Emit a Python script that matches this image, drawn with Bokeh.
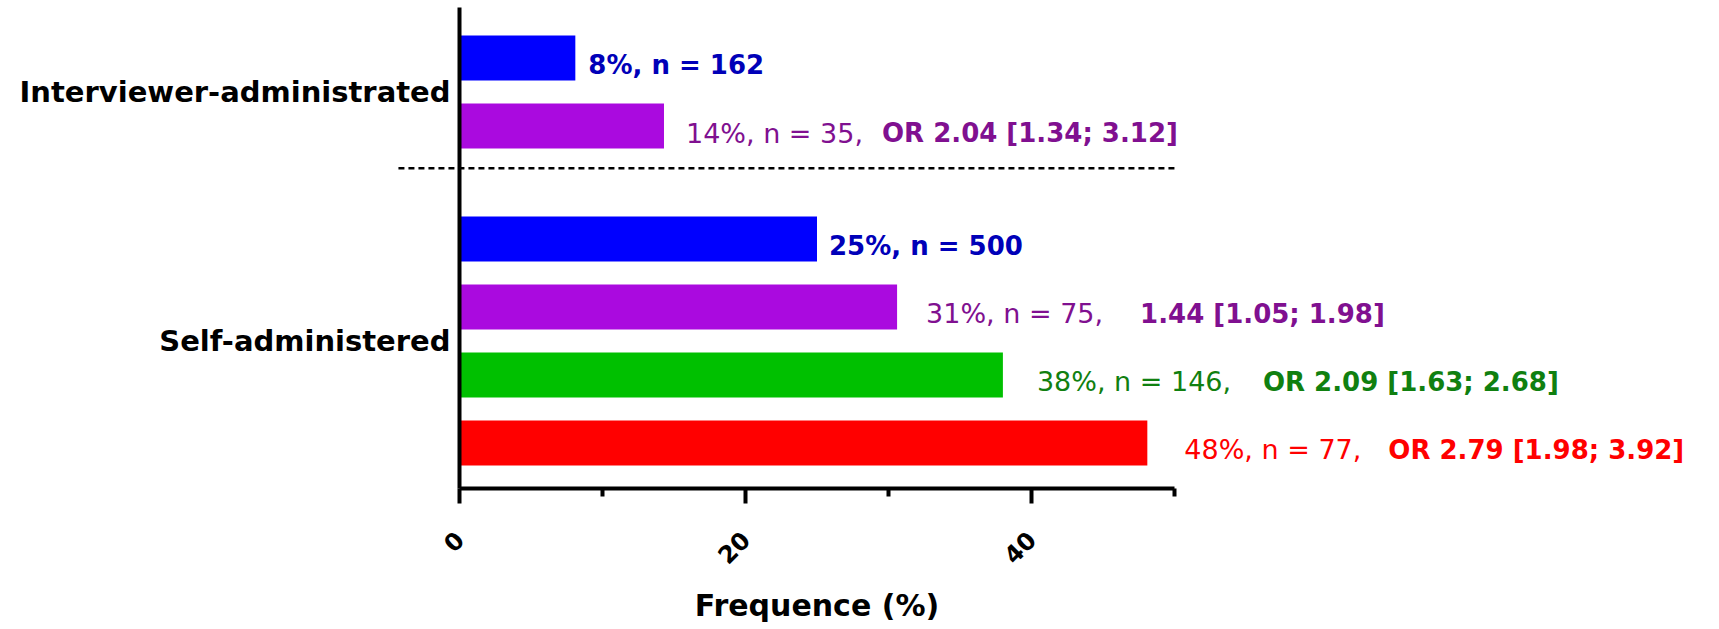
import math
from bokeh.plotting import figure
from bokeh.models import Range1d, FixedTicker, ColumnDataSource, Label
from bokeh.core.properties import value
from bokeh.embed import file_html
from bokeh.resources import INLINE

# ---------------- data ----------------
categories = ["Interviewer-administrated", "Self-administered"]
bar_group = ["Interviewer-administrated", "Interviewer-administrated",
             "Self-administered", "Self-administered", "Self-administered", "Self-administered"]
bar_values = [8.1, 14.3, 25.0, 30.6, 38.0, 48.1]
pct_labels = ["8%", "14%", "25%", "31%", "38%", "48%"]
n_values = [162, 35, 500, 75, 146, 77]
or_labels = [None, "OR 2.04 [1.34; 3.12]", None, "1.44 [1.05; 1.98]",
             "OR 2.09 [1.63; 2.68]", "OR 2.79 [1.98; 3.92]"]
x_ticks = [0, 20, 40]
x_minor_ticks = [10, 30, 50]
x_title = "Frequence (%)"

# ---------------- layout / style ----------------
FONT = "DejaVu Sans"
W, H = 1715, 627
AXIS_PX_X, AXIS_PX_Y = 459, 488      # pixel position of the axes origin
PX_X, PX_Y = 14.3, 68.0              # pixels per data unit
Y0 = 0.33                            # value at the x axis
Y_TOP = 7.40                         # top end of the y axis
bar_pos = [6.66, 5.66, 4.0, 3.0, 2.0, 1.0]
bar_height = 0.66
group_pos = {"Interviewer-administrated": 6.16, "Self-administered": 2.5}
separator_y = 5.04
separator_x = (-4.27, 50.27)
title_y = Y0 - 117 / PX_Y
bar_colors = ["#0000FF", "#AA0ADF", "#0000FF", "#AA0ADF", "#00C000", "#FF0000"]
text_colors = ["#0000B8", "#801090", "#0000B8", "#801090", "#108010", "#FF0000"]
normal_off = [0, 22, 0, 29, 34, 37]
bold_off = [13, 218, 12, 243, 260, 241]

x_range = Range1d(-AXIS_PX_X / PX_X, (W - AXIS_PX_X) / PX_X)
y_range = Range1d(Y0 - (H - AXIS_PX_Y) / PX_Y, Y0 + AXIS_PX_Y / PX_Y)

p = figure(width=W, height=H, output_backend="svg", toolbar_location=None,
           x_range=x_range, y_range=y_range,
           min_border_left=0, min_border_right=0,
           min_border_top=0, min_border_bottom=0)
p.outline_line_color = None
p.xgrid.visible = False
p.ygrid.visible = False
p.background_fill_color = "white"

# bars
bars = ColumnDataSource(dict(y=bar_pos, right=bar_values, color=bar_colors))
p.hbar(y="y", left=0, right="right", height=bar_height, fill_color="color",
       line_color=None, source=bars)

# dashed separator between the two groups
p.segment(x0=[separator_x[0]], y0=[separator_y], x1=[separator_x[1]], y1=[separator_y],
          line_dash="6 4", line_width=2.5, line_color="black")

# annotation texts
norm_x, norm_y, norm_t, norm_c, norm_o = [], [], [], [], []
bold_x, bold_y, bold_t, bold_c, bold_o = [], [], [], [], []
for i in range(len(bar_values)):
    base = f"{pct_labels[i]}, n = {n_values[i]}"
    if or_labels[i] is None:
        bold_x.append(bar_values[i]); bold_y.append(bar_pos[i]); bold_t.append(base)
        bold_c.append(text_colors[i]); bold_o.append(bold_off[i])
    else:
        norm_x.append(bar_values[i]); norm_y.append(bar_pos[i]); norm_t.append(base + ", ")
        norm_c.append(text_colors[i]); norm_o.append(normal_off[i])
        bold_x.append(bar_values[i]); bold_y.append(bar_pos[i]); bold_t.append(or_labels[i])
        bold_c.append(text_colors[i]); bold_o.append(bold_off[i])

src_n = ColumnDataSource(dict(x=norm_x, y=norm_y, text=norm_t, color=norm_c, xo=norm_o))
src_b = ColumnDataSource(dict(x=bold_x, y=bold_y, text=bold_t, color=bold_c, xo=bold_o))
p.text(x="x", y="y", text="text", x_offset="xo", y_offset=7, text_color="color",
       text_font=value(FONT), text_font_size="27px", text_font_style="normal",
       text_baseline="middle", text_align="left", source=src_n)
p.text(x="x", y="y", text="text", x_offset="xo", y_offset=7, text_color="color",
       text_font=value(FONT), text_font_size="26px", text_font_style="bold",
       text_baseline="middle", text_align="left", source=src_b)

# x axis (at y = Y0)
xa = p.xaxis[0]
xa.fixed_location = Y0
xa.ticker = FixedTicker(ticks=x_ticks, minor_ticks=x_minor_ticks)
xa.bounds = (0, 50)
xa.axis_line_width = 4
xa.major_tick_line_width = 4
xa.minor_tick_line_width = 4
xa.major_tick_in = 0
xa.major_tick_out = 15
xa.minor_tick_in = 0
xa.minor_tick_out = 8
xa.major_label_orientation = math.pi / 4
xa.major_label_standoff = 32
xa.major_label_text_font = FONT
xa.major_label_text_font_size = "24px"
xa.major_label_text_font_style = "bold"
xa.major_label_text_color = "black"

# x axis title, centred under the axis
p.add_layout(Label(x=25, y=title_y, text=x_title, text_align="center", text_baseline="middle",
                   text_font=FONT, text_font_size="30px", text_font_style="bold",
                   text_color="black"))

# y axis (at x = 0)
ya = p.yaxis[0]
ya.fixed_location = 0
ya.bounds = (Y0, Y_TOP)
ya.ticker = FixedTicker(ticks=[group_pos[c] for c in categories], minor_ticks=[])
ya.major_label_overrides = {group_pos[c]: c for c in categories}
ya.axis_line_width = 4
ya.major_tick_line_color = None
ya.minor_tick_line_color = None
ya.major_label_standoff = 3
ya.major_label_text_font = FONT
ya.major_label_text_font_size = "29px"
ya.major_label_text_font_style = "bold"
ya.major_label_text_color = "black"

open("out.html", "w").write(file_html(p, INLINE))
